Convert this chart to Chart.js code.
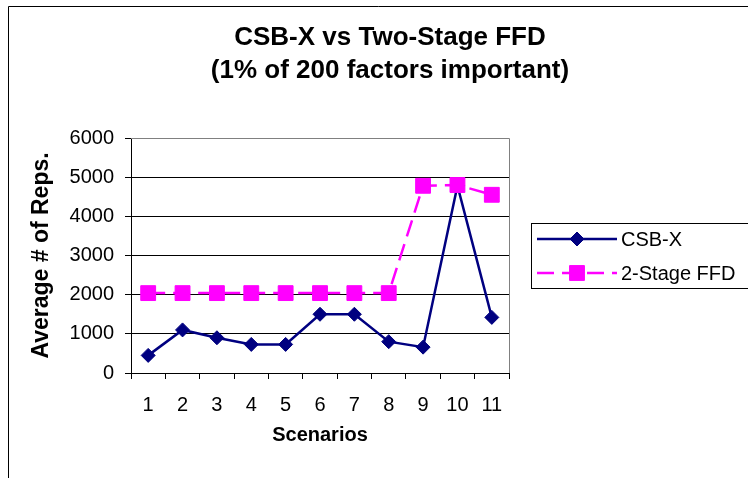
<!DOCTYPE html>
<html>
<head>
<meta charset="utf-8">
<script src="https://cdn.jsdelivr.net/npm/chart.js@4"></script>
<style>
  html, body { margin: 0; padding: 0; background: #fff; }
  canvas { display: block; }
</style>
</head>
<body>
<canvas id="myChart" width="748" height="478"></canvas>
<script>
// Chart data
const scenarios = ['1', '2', '3', '4', '5', '6', '7', '8', '9', '10', '11'];
const csbX = [450, 1100, 900, 730, 730, 1500, 1500, 800, 660, 4780, 1420];
const twoStageFFD = [2040, 2040, 2040, 2040, 2040, 2040, 2040, 2040, 4780, 4800, 4550];
const titleLines = ['CSB-X vs Two-Stage FFD', '(1% of 200 factors important)'];
const xTitle = 'Scenarios';
const yTitle = 'Average # of Reps.';

const FONT = '"Liberation Sans", Arial, sans-serif';

// Frame, title and the boxed legend that Excel draws
const excelDecor = {
    id: 'excelDecor',
    beforeDraw(chart) {
        const ctx = chart.ctx;
        ctx.save();
        ctx.fillStyle = '#fff';
        ctx.fillRect(0, 0, chart.width, chart.height);
        ctx.restore();
    },
    afterDraw(chart) {
        const ctx = chart.ctx;
        const a = chart.chartArea;
        ctx.save();

        // plot area border (top / right in gray)
        ctx.strokeStyle = '#808080';
        ctx.lineWidth = 1;
        ctx.beginPath();
        ctx.moveTo(a.left, Math.round(a.top) + 0.5);
        ctx.lineTo(Math.round(a.right) + 0.5, Math.round(a.top) + 0.5);
        ctx.lineTo(Math.round(a.right) + 0.5, a.bottom);
        ctx.stroke();

        // outer chart frame
        ctx.strokeStyle = '#000';
        ctx.beginPath();
        ctx.moveTo(8.5, chart.height + 5);
        ctx.lineTo(8.5, 6.5);
        ctx.lineTo(chart.width + 5, 6.5);
        ctx.stroke();

        // title
        ctx.fillStyle = '#000';
        ctx.font = 'bold 26px ' + FONT;
        ctx.textAlign = 'center';
        ctx.textBaseline = 'middle';
        titleLines.forEach((t, i) => ctx.fillText(t, 390, 38 + i * 33));

        // legend box
        ctx.strokeStyle = '#000';
        ctx.lineWidth = 1;
        ctx.strokeRect(531.5, 223.5, 300, 65);

        ctx.font = '20px ' + FONT;
        ctx.textAlign = 'left';
        chart.data.datasets.forEach((ds, i) => {
            const y = 239 + i * 34;
            ctx.strokeStyle = ds.borderColor;
            ctx.lineWidth = ds.borderWidth;
            ctx.setLineDash(ds.borderDash || []);
            ctx.beginPath();
            ctx.moveTo(537, y);
            ctx.lineTo(617, y);
            ctx.stroke();
            ctx.setLineDash([]);
            ctx.fillStyle = ds.pointBackgroundColor;
            ctx.strokeStyle = ds.pointBorderColor;
            ctx.lineWidth = 1;
            Chart.helpers.drawPoint(ctx, {
                pointStyle: ds.pointStyle,
                radius: ds.pointRadius,
                borderWidth: 1,
                rotation: 0
            }, 577, y);
            ctx.fillStyle = '#000';
            ctx.fillText(ds.label, 621, y + 1);
        });
        ctx.restore();
    }
};

const data = {
    labels: scenarios,
    datasets: [
        {
            label: 'CSB-X',
            data: csbX,
            borderColor: '#000080',
            borderWidth: 2.5,
            pointStyle: 'rectRot',
            pointRadius: 7,
            pointBackgroundColor: '#000080',
            pointBorderColor: '#000080',
            pointBorderWidth: 1,
            tension: 0,
            order: 2
        },
        {
            label: '2-Stage FFD',
            data: twoStageFFD,
            borderColor: '#FF00FF',
            borderWidth: 2.5,
            borderDash: [17, 8],
            pointStyle: 'rect',
            pointRadius: 10.5,
            pointBackgroundColor: '#FF00FF',
            pointBorderColor: '#FF00FF',
            pointBorderWidth: 1,
            tension: 0,
            order: 1
        }
    ]
};

const config = {
    type: 'line',
    data: data,
    options: {
        responsive: false,
        animation: false,
        layout: {
            padding: { top: 138, right: 239, left: 0, bottom: 0 }
        },
        plugins: {
            legend: { display: false },
            title: { display: false },
            tooltip: { enabled: false }
        },
        events: [],
        scales: {
            x: {
                offset: true,
                grid: {
                    offset: true,
                    drawOnChartArea: false,
                    drawTicks: true,
                    tickLength: 6,
                    color: '#000'
                },
                border: { color: '#000', width: 1 },
                ticks: {
                    color: '#000',
                    font: { family: FONT, size: 20 },
                    padding: 14,
                    maxRotation: 0,
                    autoSkip: false
                },
                title: {
                    display: true,
                    text: xTitle,
                    color: '#000',
                    font: { family: FONT, size: 20, weight: 'bold' },
                    padding: { top: 0, bottom: 31 }
                },
                afterFit: (scale) => { scale.height = 105; }
            },
            y: {
                min: 0,
                max: 6000,
                grid: {
                    color: '#000',
                    lineWidth: 1,
                    drawTicks: true,
                    tickLength: 6
                },
                border: { color: '#000', width: 1 },
                ticks: {
                    stepSize: 1000,
                    color: '#000',
                    font: { family: FONT, size: 20 },
                    padding: 11,
                    callback: (value) => String(value)
                },
                title: {
                    display: true,
                    text: yTitle,
                    color: '#000',
                    font: { family: FONT, size: 23, weight: 'bold' },
                    padding: { top: 28, bottom: 0 }
                },
                afterFit: (scale) => { scale.width = 131; }
            }
        }
    },
    plugins: [excelDecor]
};

const ctx = document.getElementById('myChart').getContext('2d');
const currentChart = new Chart(ctx, config);
</script>
</body>
</html>
